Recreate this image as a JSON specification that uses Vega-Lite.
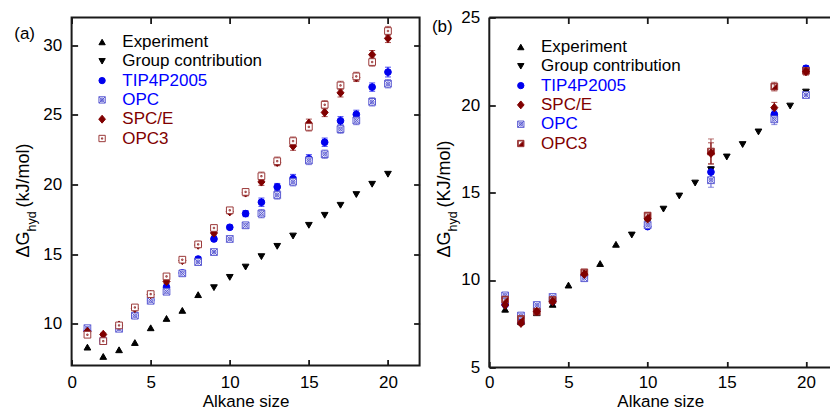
{
"$schema": "https://vega.github.io/schema/vega-lite/v6.json",
"padding": {"left": 12.6, "top": 8.5, "right": 0, "bottom": 0},
"config": {
 "font": "Liberation Sans",
 "view": {"stroke": null},
 "axis": {"grid": false, "labelFont": "Liberation Sans", "labelFontSize": 17, "labelColor": "#000000", "titleFont": "Liberation Sans", "titleFontSize": 17, "titleFontWeight": "normal", "titleColor": "#000000", "domainColor": "#1a1a1a", "tickColor": "#1a1a1a", "domainWidth": 2, "tickWidth": 1.8, "labelFlush": false, "labelOverlap": false},
 "text": {"font": "Liberation Sans", "color": "#000000"}
},
"datasets": {
 "a": [
  {"s":"Experiment","n":1,"v":8.32},{"s":"Experiment","n":2,"v":7.65},{"s":"Experiment","n":3,"v":8.13},{"s":"Experiment","n":4,"v":8.65},{"s":"Experiment","n":5,"v":9.71},{"s":"Experiment","n":6,"v":10.38},{"s":"Experiment","n":7,"v":10.96},{"s":"Experiment","n":8,"v":12.09},
  {"s":"Group contribution","n":9,"v":12.59},{"s":"Group contribution","n":10,"v":13.33},{"s":"Group contribution","n":11,"v":14.07},{"s":"Group contribution","n":12,"v":14.82},{"s":"Group contribution","n":13,"v":15.56},{"s":"Group contribution","n":14,"v":16.3},{"s":"Group contribution","n":15,"v":17.07},{"s":"Group contribution","n":16,"v":17.79},{"s":"Group contribution","n":17,"v":18.51},{"s":"Group contribution","n":18,"v":19.28},{"s":"Group contribution","n":19,"v":20.02},{"s":"Group contribution","n":20,"v":20.74},
  {"s":"TIP4P2005","n":1,"v":9.5,"e":0.1},{"s":"TIP4P2005","n":2,"v":8.8,"e":0.1},{"s":"TIP4P2005","n":3,"v":9.7,"e":0.1},{"s":"TIP4P2005","n":4,"v":10.6,"e":0.1},{"s":"TIP4P2005","n":5,"v":11.7,"e":0.1},{"s":"TIP4P2005","n":6,"v":12.63,"e":0.15},{"s":"TIP4P2005","n":7,"v":13.65,"e":0.15},{"s":"TIP4P2005","n":8,"v":14.65,"e":0.15},{"s":"TIP4P2005","n":9,"v":16.09,"e":0.15},{"s":"TIP4P2005","n":10,"v":16.93,"e":0.15},{"s":"TIP4P2005","n":11,"v":17.91,"e":0.22},{"s":"TIP4P2005","n":12,"v":18.73,"e":0.3},{"s":"TIP4P2005","n":13,"v":19.83,"e":0.25},{"s":"TIP4P2005","n":14,"v":20.43,"e":0.3},{"s":"TIP4P2005","n":15,"v":21.85,"e":0.3},{"s":"TIP4P2005","n":16,"v":23.04,"e":0.3},{"s":"TIP4P2005","n":17,"v":24.58,"e":0.3},{"s":"TIP4P2005","n":18,"v":25.04,"e":0.3},{"s":"TIP4P2005","n":19,"v":27.0,"e":0.3},{"s":"TIP4P2005","n":20,"v":28.08,"e":0.35},
  {"s":"OPC","n":1,"v":9.68,"e":0.1},{"s":"OPC","n":2,"v":8.75,"e":0.1},{"s":"OPC","n":3,"v":9.64,"e":0.1},{"s":"OPC","n":4,"v":10.58,"e":0.1},{"s":"OPC","n":5,"v":11.65,"e":0.1},{"s":"OPC","n":6,"v":12.3,"e":0.15},{"s":"OPC","n":7,"v":13.62,"e":0.15},{"s":"OPC","n":8,"v":14.43,"e":0.15},{"s":"OPC","n":9,"v":15.15,"e":0.15},{"s":"OPC","n":10,"v":16.09,"e":0.15},{"s":"OPC","n":11,"v":17.07,"e":0.22},{"s":"OPC","n":12,"v":17.91,"e":0.3},{"s":"OPC","n":13,"v":19.25,"e":0.3},{"s":"OPC","n":14,"v":20.2,"e":0.3},{"s":"OPC","n":15,"v":21.73,"e":0.3},{"s":"OPC","n":16,"v":22.18,"e":0.3},{"s":"OPC","n":17,"v":23.98,"e":0.3},{"s":"OPC","n":18,"v":24.6,"e":0.3},{"s":"OPC","n":19,"v":25.94,"e":0.3},{"s":"OPC","n":20,"v":27.24,"e":0.3},
  {"s":"SPC/E","n":1,"v":9.45,"e":0.1},{"s":"SPC/E","n":2,"v":9.23,"e":0.1},{"s":"SPC/E","n":3,"v":9.9,"e":0.1},{"s":"SPC/E","n":4,"v":11.1,"e":0.1},{"s":"SPC/E","n":5,"v":12.1,"e":0.1},{"s":"SPC/E","n":6,"v":13.04,"e":0.15},{"s":"SPC/E","n":7,"v":14.55,"e":0.15},{"s":"SPC/E","n":8,"v":15.65,"e":0.15},{"s":"SPC/E","n":9,"v":16.52,"e":0.15},{"s":"SPC/E","n":10,"v":18.05,"e":0.15},{"s":"SPC/E","n":11,"v":19.4,"e":0.22},{"s":"SPC/E","n":12,"v":20.19,"e":0.25},{"s":"SPC/E","n":13,"v":21.6,"e":0.25},{"s":"SPC/E","n":14,"v":22.76,"e":0.3},{"s":"SPC/E","n":15,"v":24.4,"e":0.3},{"s":"SPC/E","n":16,"v":25.18,"e":0.3},{"s":"SPC/E","n":17,"v":26.59,"e":0.3},{"s":"SPC/E","n":18,"v":27.7,"e":0.3},{"s":"SPC/E","n":19,"v":29.33,"e":0.3},{"s":"SPC/E","n":20,"v":30.5,"e":0.3},
  {"s":"OPC3","n":1,"v":9.21,"e":0.1},{"s":"OPC3","n":2,"v":8.75,"e":0.1},{"s":"OPC3","n":3,"v":9.88,"e":0.1},{"s":"OPC3","n":4,"v":11.17,"e":0.1},{"s":"OPC3","n":5,"v":12.13,"e":0.1},{"s":"OPC3","n":6,"v":13.4,"e":0.15},{"s":"OPC3","n":7,"v":14.6,"e":0.15},{"s":"OPC3","n":8,"v":15.7,"e":0.15},{"s":"OPC3","n":9,"v":16.88,"e":0.2},{"s":"OPC3","n":10,"v":18.15,"e":0.2},{"s":"OPC3","n":11,"v":19.47,"e":0.22},{"s":"OPC3","n":12,"v":20.6,"e":0.3},{"s":"OPC3","n":13,"v":21.68,"e":0.3},{"s":"OPC3","n":14,"v":23.12,"e":0.3},{"s":"OPC3","n":15,"v":24.14,"e":0.3},{"s":"OPC3","n":16,"v":25.73,"e":0.3},{"s":"OPC3","n":17,"v":27.12,"e":0.3},{"s":"OPC3","n":18,"v":27.77,"e":0.3},{"s":"OPC3","n":19,"v":28.8,"e":0.3},{"s":"OPC3","n":20,"v":31.03,"e":0.33}
 ],
 "b": [
  {"s":"Experiment","n":1,"v":8.33},{"s":"Experiment","n":2,"v":7.62},{"s":"Experiment","n":3,"v":8.13},{"s":"Experiment","n":4,"v":8.61},{"s":"Experiment","n":5,"v":9.71},{"s":"Experiment","n":6,"v":10.4},{"s":"Experiment","n":7,"v":10.94},{"s":"Experiment","n":8,"v":12.04},
  {"s":"Group contribution","n":9,"v":12.57},{"s":"Group contribution","n":10,"v":13.33},{"s":"Group contribution","n":11,"v":14.05},{"s":"Group contribution","n":12,"v":14.8},{"s":"Group contribution","n":13,"v":15.54},{"s":"Group contribution","n":14,"v":16.3},{"s":"Group contribution","n":15,"v":17.03},{"s":"Group contribution","n":16,"v":17.74},{"s":"Group contribution","n":17,"v":18.46},{"s":"Group contribution","n":18,"v":19.25},{"s":"Group contribution","n":19,"v":19.94},{"s":"Group contribution","n":20,"v":20.74},
  {"s":"TIP4P2005","n":1,"v":8.6,"e":0.1},{"s":"TIP4P2005","n":2,"v":7.6,"e":0.1},{"s":"TIP4P2005","n":3,"v":8.3,"e":0.1},{"s":"TIP4P2005","n":4,"v":8.8,"e":0.1},{"s":"TIP4P2005","n":6,"v":10.25,"e":0.1},{"s":"TIP4P2005","n":10,"v":13.05,"e":0.1},{"s":"TIP4P2005","n":14,"v":16.17,"e":0.3},{"s":"TIP4P2005","n":18,"v":19.47,"e":0.25},{"s":"TIP4P2005","n":20,"v":22.1,"e":0.15},
  {"s":"OPC","n":1,"v":9.12,"e":0.1},{"s":"OPC","n":2,"v":7.97,"e":0.1},{"s":"OPC","n":3,"v":8.57,"e":0.1},{"s":"OPC","n":4,"v":9.03,"e":0.1},{"s":"OPC","n":6,"v":10.1,"e":0.1},{"s":"OPC","n":10,"v":13.14,"e":0.1},{"s":"OPC","n":14,"v":15.7,"e":0.4},{"s":"OPC","n":18,"v":19.18,"e":0.3},{"s":"OPC","n":20,"v":20.57,"e":0.15},
  {"s":"OPC3","n":1,"v":8.88,"e":0.1},{"s":"OPC3","n":2,"v":7.77,"e":0.1},{"s":"OPC3","n":3,"v":8.19,"e":0.1},{"s":"OPC3","n":4,"v":8.86,"e":0.1},{"s":"OPC3","n":6,"v":10.44,"e":0.1},{"s":"OPC3","n":10,"v":13.68,"e":0.1},{"s":"OPC3","n":14,"v":17.34,"e":0.72},{"s":"OPC3","n":18,"v":21.05,"e":0.25},{"s":"OPC3","n":20,"v":21.95,"e":0.2},
  {"s":"SPC/E","n":1,"v":8.57,"e":0.1},{"s":"SPC/E","n":2,"v":7.53,"e":0.1},{"s":"SPC/E","n":3,"v":8.2,"e":0.1},{"s":"SPC/E","n":4,"v":8.77,"e":0.1},{"s":"SPC/E","n":6,"v":10.33,"e":0.1},{"s":"SPC/E","n":10,"v":13.49,"e":0.1},{"s":"SPC/E","n":14,"v":17.24,"e":0.6},{"s":"SPC/E","n":18,"v":19.85,"e":0.3},{"s":"SPC/E","n":20,"v":21.91,"e":0.2}
 ]
},
"spacing": 69.7,
"bounds": "flush",
"resolve": {"scale": {"shape": "independent", "fill": "independent", "stroke": "independent", "color": "independent"}, "legend": {"shape": "independent", "fill": "independent", "stroke": "independent", "color": "independent"}},
"hconcat": [
 {
  "width": 348, "height": 348,
  "view": {"stroke": "#1a1a1a", "strokeWidth": 2},
  "data": {"name": "a"},
  "resolve": {"axis": {"x": "independent", "y": "independent"}},
  "layer": [
   {"layer": [
    {"transform": [{"filter": "datum.e > 0"}],
     "mark": {"type": "errorbar", "ticks": {"size": 6}, "thickness": 1},
     "encoding": {
      "x": {"field": "n", "type": "quantitative", "scale": {"domain": [0, 22], "nice": false}, "axis": {"orient": "bottom", "values": [0, 5, 10, 15, 20], "title": "Alkane size", "domain": false, "ticks": true, "tickSize": 6, "offset": -6, "labelPadding": 9.4, "titlePadding": 3}},
      "y": {"field": "v", "type": "quantitative", "scale": {"domain": [7, 32], "nice": false, "zero": false}, "axis": {"orient": "left", "values": [10, 15, 20, 25, 30], "title": null, "domain": false, "ticks": true, "tickSize": 6, "offset": -6, "labelPadding": 10}},
      "yError": {"field": "e"},
      "color": {"field": "s", "type": "nominal", "scale": {"domain": ["TIP4P2005", "OPC", "SPC/E", "OPC3"], "range": ["#0000ee", "#5a5ad2", "#800000", "#9c3a3a"]}, "legend": null}
     }},
    {"mark": {"type": "point", "filled": true, "size": 45, "strokeWidth": 1, "opacity": 1},
     "encoding": {
      "x": {"field": "n", "type": "quantitative", "scale": {"domain": [0, 22], "nice": false}, "axis": {"orient": "bottom", "values": [0, 5, 10, 15, 20], "title": "Alkane size", "domain": false, "ticks": true, "tickSize": 6, "offset": -6, "labelPadding": 9.4, "titlePadding": 3}},
      "y": {"field": "v", "type": "quantitative", "scale": {"domain": [7, 32], "nice": false, "zero": false}, "axis": {"orient": "left", "values": [10, 15, 20, 25, 30], "title": null, "domain": false, "ticks": true, "tickSize": 6, "offset": -6, "labelPadding": 10}},
      "shape": {"field": "s", "type": "nominal", "scale": {"domain": ["Experiment", "Group contribution", "TIP4P2005", "OPC", "SPC/E", "OPC3"], "range": ["triangle-up", "triangle-down", "circle", "M-1,-1H1V1H-1Z M-1,-1L1,1 M1,-1L-1,1 M0.55,0A0.55,0.55 0 1,1 -0.55,0A0.55,0.55 0 1,1 0.55,0", "M0,-1.25L1.05,0L0,1.25L-1.05,0Z", "M-1,-1H1V1H-1Z M-0.2,-0.2H0.2V0.2H-0.2Z"]},
       "legend": {"title": null, "orient": "none", "legendX": 22, "legendY": 16, "labelFontSize": 17, "labelFont": "Liberation Sans", "symbolSize": 40, "labelOffset": 11.7, "rowPadding": 1.3, "symbolStrokeWidth": 1, "labelLimit": 0, "padding": 0, "labelColor": {"expr": "indexof(['TIP4P2005','OPC'], datum.label) >= 0 ? '#0000ff' : (indexof(['SPC/E','OPC3'], datum.label) >= 0 ? '#800000' : '#000000')"}}},
      "fill": {"field": "s", "type": "nominal", "scale": {"domain": ["Experiment", "Group contribution", "TIP4P2005", "OPC", "SPC/E", "OPC3"], "range": ["#000000", "#000000", "#0000ee", "#ffffff", "#800000", "#ffffff"]},
       "legend": {"title": null, "orient": "none", "legendX": 22, "legendY": 16, "labelFontSize": 17, "labelFont": "Liberation Sans", "symbolSize": 40, "labelOffset": 11.7, "rowPadding": 1.3, "symbolStrokeWidth": 1, "labelLimit": 0, "padding": 0, "labelColor": {"expr": "indexof(['TIP4P2005','OPC'], datum.label) >= 0 ? '#0000ff' : (indexof(['SPC/E','OPC3'], datum.label) >= 0 ? '#800000' : '#000000')"}}},
      "stroke": {"field": "s", "type": "nominal", "scale": {"domain": ["Experiment", "Group contribution", "TIP4P2005", "OPC", "SPC/E", "OPC3"], "range": ["#000000", "#000000", "#0000ee", "#5a5ad2", "#800000", "#9c3a3a"]},
       "legend": {"title": null, "orient": "none", "legendX": 22, "legendY": 16, "labelFontSize": 17, "labelFont": "Liberation Sans", "symbolSize": 40, "labelOffset": 11.7, "rowPadding": 1.3, "symbolStrokeWidth": 1, "labelLimit": 0, "padding": 0, "labelColor": {"expr": "indexof(['TIP4P2005','OPC'], datum.label) >= 0 ? '#0000ff' : (indexof(['SPC/E','OPC3'], datum.label) >= 0 ? '#800000' : '#000000')"}}}
     }},
    {"data": {"values": [{}]}, "mark": {"type": "text", "text": "(a)", "fontSize": 17, "align": "center", "baseline": "middle"}, "encoding": {"x": {"value": -47}, "y": {"value": 16}}},
    {"data": {"values": [{}]}, "mark": {"type": "text", "text": "ΔG", "fontSize": 18, "angle": 270, "align": "left", "baseline": "alphabetic"}, "encoding": {"x": {"value": -43}, "y": {"value": 240}}},
    {"data": {"values": [{}]}, "mark": {"type": "text", "text": "hyd", "fontSize": 12.5, "angle": 270, "align": "left", "baseline": "alphabetic"}, "encoding": {"x": {"value": -35.5}, "y": {"value": 214}}},
    {"data": {"values": [{}]}, "mark": {"type": "text", "text": "(kJ/mol)", "fontSize": 18, "angle": 270, "align": "left", "baseline": "alphabetic"}, "encoding": {"x": {"value": -43}, "y": {"value": 190}}}
   ]},
   {"mark": {"type": "point", "opacity": 0},
    "encoding": {
     "x": {"field": "n", "type": "quantitative", "axis": {"orient": "top", "values": [0, 5, 10, 15, 20], "labels": false, "title": null, "domain": false, "ticks": true, "tickSize": 6, "offset": -6}},
     "y": {"field": "v", "type": "quantitative", "axis": {"orient": "right", "values": [10, 15, 20, 25, 30], "labels": false, "title": null, "domain": false, "ticks": true, "tickSize": 6, "offset": -6}}
    }}
  ]
 },
 {
  "width": 342, "height": 350,
  "data": {"name": "b"},
  "resolve": {"axis": {"x": "independent", "y": "independent"}},
  "layer": [
   {"layer": [
    {"data": {"values": [{}]}, "mark": {"type": "rule", "color": "#1a1a1a", "strokeWidth": 2},
     "encoding": {"x": {"datum": 0, "type": "quantitative"}, "y": {"datum": 5, "type": "quantitative"}, "y2": {"datum": 25}}},
    {"data": {"values": [{}]}, "mark": {"type": "rule", "color": "#1a1a1a", "strokeWidth": 2},
     "encoding": {"y": {"datum": 5, "type": "quantitative"}, "x": {"datum": 0, "type": "quantitative"}, "x2": {"datum": 21.6}}},
    {"data": {"values": [{}]}, "mark": {"type": "rule", "color": "#1a1a1a", "strokeWidth": 2},
     "encoding": {"y": {"datum": 25, "type": "quantitative"}, "x": {"datum": 0, "type": "quantitative"}, "x2": {"datum": 21.6}}},
    {"transform": [{"filter": "datum.e > 0"}],
     "mark": {"type": "errorbar", "ticks": {"size": 6}, "thickness": 1},
     "encoding": {
      "x": {"field": "n", "type": "quantitative", "scale": {"domain": [0, 21.6], "nice": false}, "axis": {"orient": "bottom", "values": [0, 5, 10, 15, 20], "title": "Alkane size", "domain": false, "ticks": true, "tickSize": 6, "offset": -6, "labelPadding": 7.5, "titlePadding": 3}},
      "y": {"field": "v", "type": "quantitative", "scale": {"domain": [5, 25], "nice": false, "zero": false}, "axis": {"orient": "left", "values": [5, 10, 15, 20, 25], "title": null, "domain": false, "ticks": true, "tickSize": 6, "offset": -6, "labelPadding": 9.7}},
      "yError": {"field": "e"},
      "color": {"field": "s", "type": "nominal", "scale": {"domain": ["TIP4P2005", "SPC/E", "OPC", "OPC3"], "range": ["#0000ee", "#800000", "#5a5ad2", "#9c3a3a"]}, "legend": null}
     }},
    {"mark": {"type": "point", "filled": true, "size": 45, "strokeWidth": 1, "opacity": 1},
     "encoding": {
      "x": {"field": "n", "type": "quantitative", "scale": {"domain": [0, 21.6], "nice": false}, "axis": {"orient": "bottom", "values": [0, 5, 10, 15, 20], "title": "Alkane size", "domain": false, "ticks": true, "tickSize": 6, "offset": -6, "labelPadding": 7.5, "titlePadding": 3}},
      "y": {"field": "v", "type": "quantitative", "scale": {"domain": [5, 25], "nice": false, "zero": false}, "axis": {"orient": "left", "values": [5, 10, 15, 20, 25], "title": null, "domain": false, "ticks": true, "tickSize": 6, "offset": -6, "labelPadding": 9.7}},
      "shape": {"field": "s", "type": "nominal", "scale": {"domain": ["Experiment", "Group contribution", "TIP4P2005", "SPC/E", "OPC", "OPC3"], "range": ["triangle-up", "triangle-down", "circle", "M0,-1.25L1.05,0L0,1.25L-1.05,0Z", "M-1,-1H1V1H-1Z M-1,-1L1,1 M1,-1L-1,1 M0.55,0A0.55,0.55 0 1,1 -0.55,0A0.55,0.55 0 1,1 0.55,0", "M-1,-1H1V1H-1Z M-0.8,-0.8V0.8L0.8,-0.8Z"]},
       "legend": {"title": null, "orient": "none", "legendX": 23, "legendY": 21, "labelFontSize": 17, "labelFont": "Liberation Sans", "symbolSize": 40, "labelOffset": 11.7, "rowPadding": 1.3, "symbolStrokeWidth": 1, "labelLimit": 0, "padding": 0, "labelColor": {"expr": "indexof(['TIP4P2005','OPC'], datum.label) >= 0 ? '#0000ff' : (indexof(['SPC/E','OPC3'], datum.label) >= 0 ? '#800000' : '#000000')"}}},
      "fill": {"field": "s", "type": "nominal", "scale": {"domain": ["Experiment", "Group contribution", "TIP4P2005", "SPC/E", "OPC", "OPC3"], "range": ["#000000", "#000000", "#0000ee", "#800000", "#ffffff", "#800000"]},
       "legend": {"title": null, "orient": "none", "legendX": 23, "legendY": 21, "labelFontSize": 17, "labelFont": "Liberation Sans", "symbolSize": 40, "labelOffset": 11.7, "rowPadding": 1.3, "symbolStrokeWidth": 1, "labelLimit": 0, "padding": 0, "labelColor": {"expr": "indexof(['TIP4P2005','OPC'], datum.label) >= 0 ? '#0000ff' : (indexof(['SPC/E','OPC3'], datum.label) >= 0 ? '#800000' : '#000000')"}}},
      "stroke": {"field": "s", "type": "nominal", "scale": {"domain": ["Experiment", "Group contribution", "TIP4P2005", "SPC/E", "OPC", "OPC3"], "range": ["#000000", "#000000", "#0000ee", "#800000", "#5a5ad2", "#9c3a3a"]},
       "legend": {"title": null, "orient": "none", "legendX": 23, "legendY": 21, "labelFontSize": 17, "labelFont": "Liberation Sans", "symbolSize": 40, "labelOffset": 11.7, "rowPadding": 1.3, "symbolStrokeWidth": 1, "labelLimit": 0, "padding": 0, "labelColor": {"expr": "indexof(['TIP4P2005','OPC'], datum.label) >= 0 ? '#0000ff' : (indexof(['SPC/E','OPC3'], datum.label) >= 0 ? '#800000' : '#000000')"}}}
     }},
    {"data": {"values": [{}]}, "mark": {"type": "text", "text": "(b)", "fontSize": 17, "align": "center", "baseline": "middle"}, "encoding": {"x": {"value": -47}, "y": {"value": 9.5}}},
    {"data": {"values": [{}]}, "mark": {"type": "text", "text": "ΔG", "fontSize": 18, "angle": 270, "align": "left", "baseline": "alphabetic"}, "encoding": {"x": {"value": -39.7}, "y": {"value": 240}}},
    {"data": {"values": [{}]}, "mark": {"type": "text", "text": "hyd", "fontSize": 12.5, "angle": 270, "align": "left", "baseline": "alphabetic"}, "encoding": {"x": {"value": -32.2}, "y": {"value": 214}}},
    {"data": {"values": [{}]}, "mark": {"type": "text", "text": "(KJ/mol)", "fontSize": 18, "angle": 270, "align": "left", "baseline": "alphabetic"}, "encoding": {"x": {"value": -39.7}, "y": {"value": 190}}}
   ]},
   {"mark": {"type": "point", "opacity": 0},
    "encoding": {
     "x": {"field": "n", "type": "quantitative", "axis": {"orient": "top", "values": [5, 10, 15, 20], "labels": false, "title": null, "domain": false, "ticks": true, "tickSize": 6, "offset": -6}},
     "y": {"field": "v", "type": "quantitative", "axis": null}
    }}
  ]
 }
]
}
